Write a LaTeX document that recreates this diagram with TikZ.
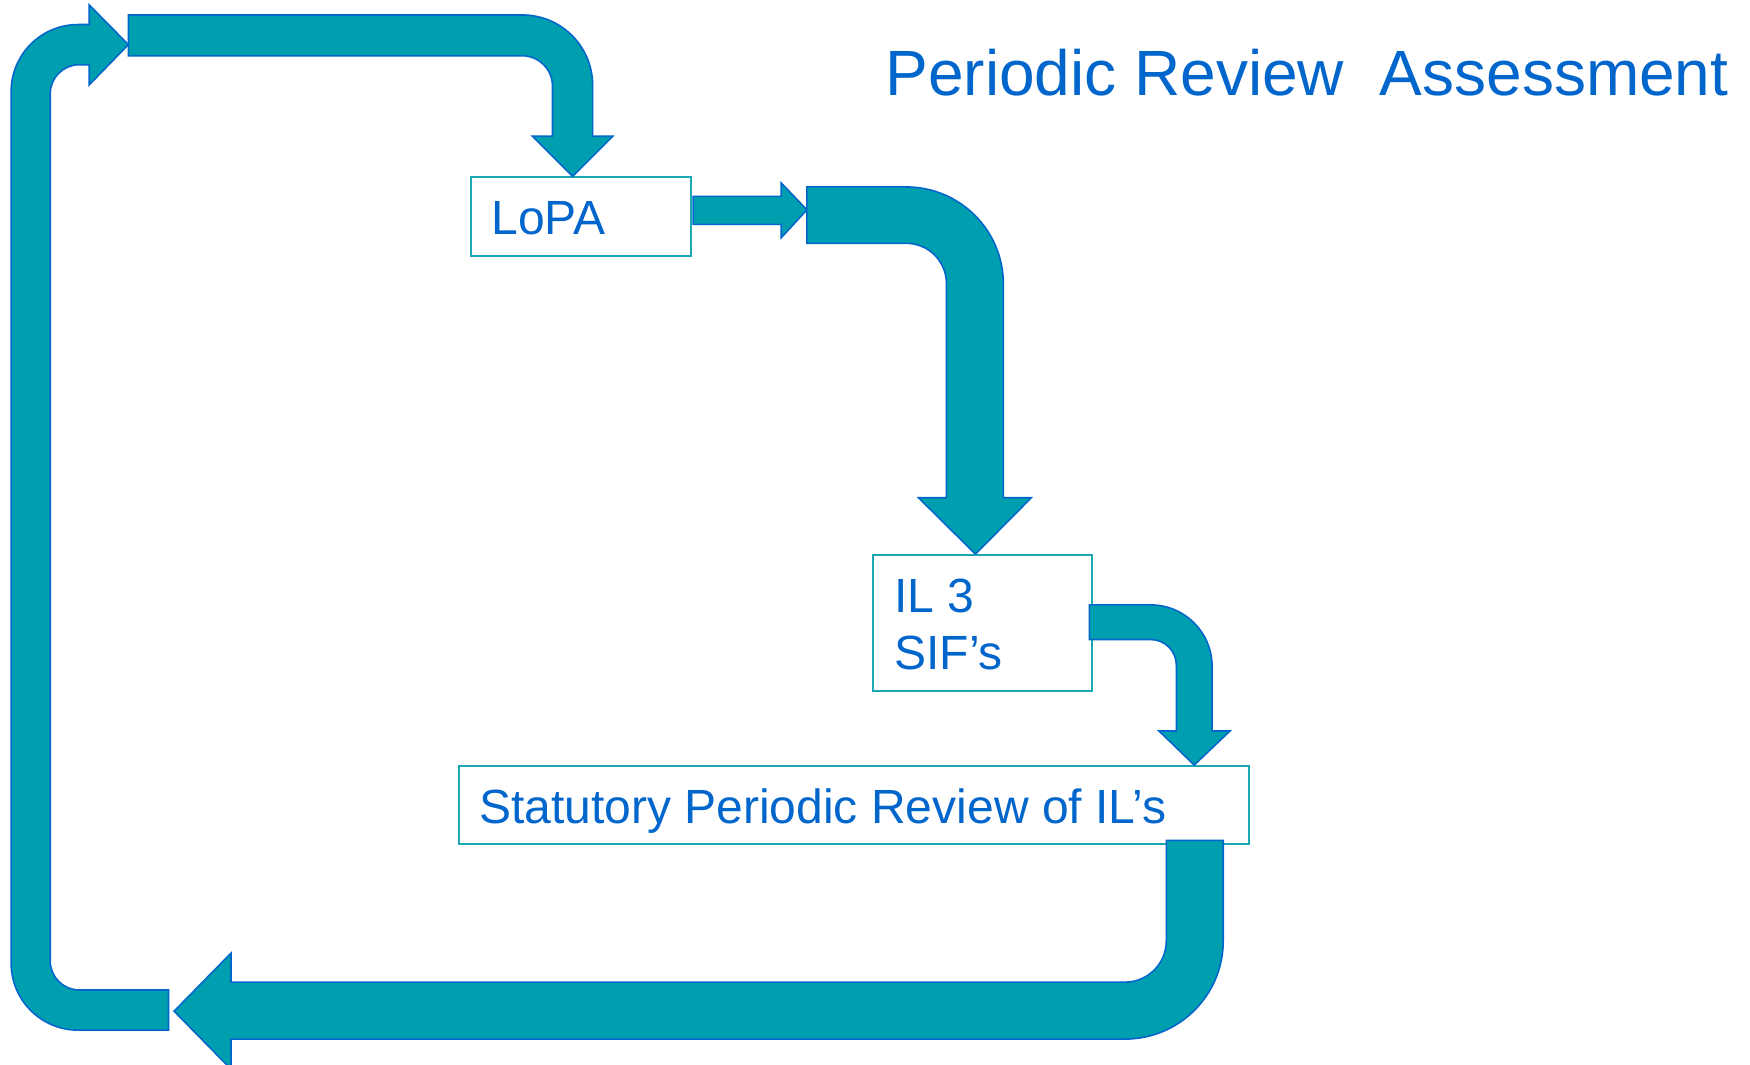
\documentclass[tikz,border=0pt]{standalone}
\usepackage{fontspec}
\setmainfont{Liberation Sans}
\definecolor{arrowfill}{HTML}{009FAF}
\definecolor{arrowline}{HTML}{0066CC}
\definecolor{boxline}{HTML}{1AA8B4}
\definecolor{textblue}{HTML}{0066CC}
\begin{document}
\begin{tikzpicture}[x=0.558pt,y=-0.558pt,
  blockarrow/.style={fill=arrowfill,draw=arrowline,line width=0.8pt,line join=miter},
  stagebox/.style={draw=boxline,line width=1pt,fill=white,inner sep=0pt,anchor=north west},
  stagetext/.style={anchor=base west,inner sep=0pt,text=textblue,font=\fontsize{24}{28.8}\selectfont},
  titletext/.style={anchor=base west,inner sep=0pt,text=textblue,font=\fontsize{32}{38}\selectfont}]
\useasboundingbox (0,0) rectangle (1568,954);

% title
\node[titletext] (title) at (793,86) {Periodic Review\ \ Assessment};

% stage boxes
\node[stagebox,minimum width=109.9pt,minimum height=39.1pt] (lopa) at (421,158) {};
\node[stagebox,minimum width=109.9pt,minimum height=68.1pt] (sif) at (781,496.5) {};
\node[stagebox,minimum width=395pt,minimum height=38.8pt] (review) at (410,685.5) {};

% stage labels
\node[stagetext] (lopatext) at (440,210) {LoPA};
\node[stagetext] (siftext1) at (801,548.5) {IL 3};
\node[stagetext] (siftext2) at (801,600) {SIF’s};
\node[stagetext] (reviewtext) at (429,737.5) {Statutory Periodic Review of IL’s};

% loop-back arrow: bottom, up the left side, into the top
\draw[blockarrow] (151,923) -- (70,923) arc[start angle=90,end angle=180,radius=60]
  -- (10,82) arc[start angle=180,end angle=270,radius=60]
  -- (80,22) -- (80,4.5) -- (115,40) -- (80,76) -- (80,58) -- (71,58)
  arc[start angle=270,end angle=180,radius=26]
  -- (45,861) arc[start angle=180,end angle=90,radius=26]
  -- (151,887) -- cycle;

% top arrow down into LoPA
\draw[blockarrow] (115,13.4) -- (468,13.4) arc[start angle=270,end angle=360,radius=63]
  -- (531,122) -- (549,122) -- (513,158) -- (477,122) -- (495,122) -- (495,77)
  arc[start angle=0,end angle=-90,radius=27]
  -- (115,50) -- cycle;

% short arrow out of LoPA
\draw[blockarrow] (621,176) -- (700,176) -- (700,164) -- (723,188) -- (700,213)
  -- (700,201) -- (621,201) -- cycle;

% large bent arrow down to the IL 3 box
\draw[blockarrow] (723,167.5) -- (812,167.5) arc[start angle=270,end angle=360,radius=87]
  -- (899,446) -- (924,446) -- (874,496.5) -- (823,446) -- (848,446) -- (848,254)
  arc[start angle=0,end angle=-90,radius=36]
  -- (723,218) -- cycle;

% small bent arrow down to the review box
\draw[blockarrow] (976,542) -- (1031,542) arc[start angle=270,end angle=360,radius=55]
  -- (1086,655) -- (1102,655) -- (1070,685.5) -- (1038.5,655) -- (1054,655) -- (1054,596)
  arc[start angle=0,end angle=-90,radius=23]
  -- (976,573) -- cycle;

% return arrow along the bottom
\draw[blockarrow] (1045,753) -- (1096,753) -- (1096,843) arc[start angle=0,end angle=90,radius=88]
  -- (207,931) -- (207,958) -- (156,906) -- (207,854) -- (207,880) -- (1008,880)
  arc[start angle=90,end angle=0,radius=37]
  -- cycle;
\end{tikzpicture}
\end{document}
